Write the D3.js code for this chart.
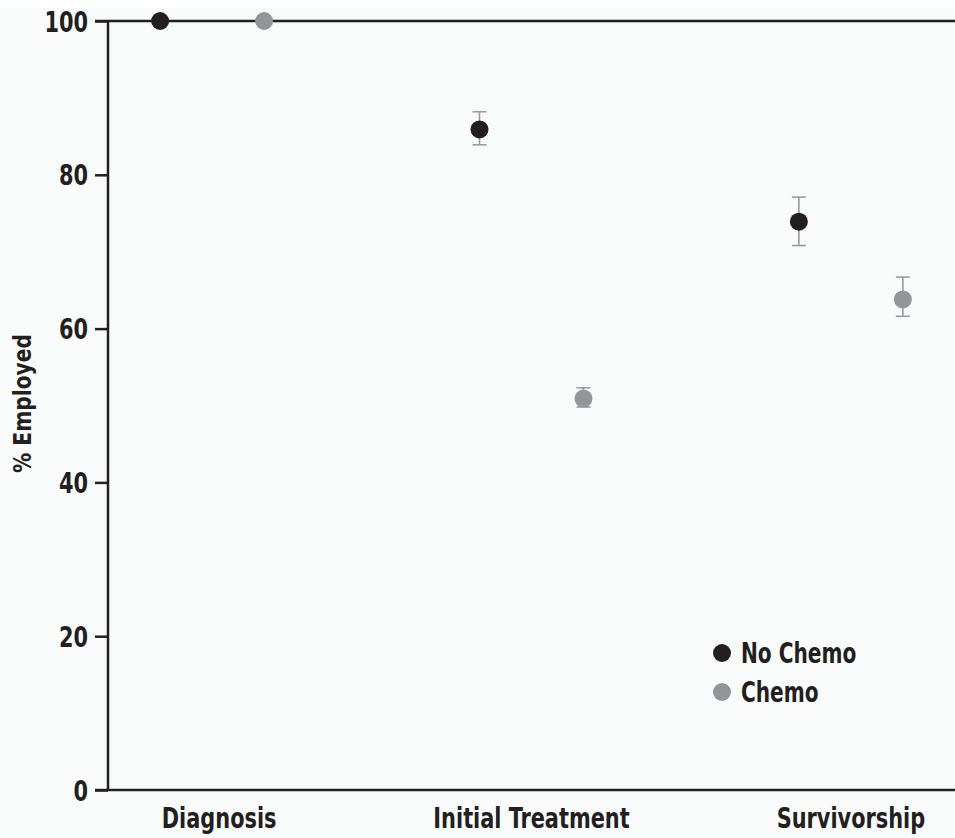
<!DOCTYPE html>
<html>
<head>
<meta charset="utf-8">
<script src="https://cdnjs.cloudflare.com/ajax/libs/d3/7.8.5/d3.min.js"></script>
<style>
    body { margin: 0; background: #fff; }
    svg { display: block; }
    .lbl { font-family: "Liberation Sans Narrow", "DejaVu Sans Condensed", sans-serif; font-weight: bold; fill: #231f20; }
</style>
</head>
<body>
<svg id="chart"></svg>
<script>
// data
var stages = ["Diagnosis", "Initial Treatment", "Survivorship"];
var groups = ["No Chemo", "Chemo"];
var noChemo = [100, 85.9, 73.9];
var noChemoLo = [100, 83.9, 70.8];
var noChemoHi = [100, 88.2, 77.1];
var chemo = [100, 50.9, 63.8];
var chemoLo = [100, 49.8, 61.6];
var chemoHi = [100, 52.3, 66.7];
var yTicks = [0, 20, 40, 60, 80, 100];

var width = 955,
    height = 838,
    margin = {top: 21, bottom: 48, left: 108, right: 0},
    squeeze = 0.8;

var colors = {"No Chemo": "#231f20", "Chemo": "#939598"};

var svg = d3.select("#chart")
    .attr("width", width)
    .attr("height", height);

svg.append("rect")
    .attr("x", 0).attr("y", 8)
    .attr("width", width).attr("height", height - 8)
    .attr("fill", "#f9fbfb");

var xScale = d3.scalePoint()
    .domain(stages)
    .range([margin.left, width - margin.right])
    .padding(0.326);

var offset = d3.scalePoint()
    .domain(groups)
    .range([-52, 52]);

var yScale = d3.scaleLinear()
    .domain([0, 100])
    .range([height - margin.bottom, margin.top]);

// condensed text placed at (x, y)
function label(parent, x, y, txt, size, anchor) {
    return parent.append("text")
        .attr("class", "lbl")
        .attr("transform", "translate(" + x + "," + y + ") scale(" + squeeze + ",1)")
        .attr("text-anchor", anchor)
        .style("font-size", size + "px")
        .text(txt);
}

// y axis
var yAxis = d3.axisLeft(yScale)
    .tickValues(yTicks)
    .tickSize(13)
    .tickFormat("");

var yAxisG = svg.append("g")
    .attr("transform", "translate(" + margin.left + ",0)")
    .call(yAxis);
yAxisG.select(".domain").remove();
yAxisG.selectAll("line").attr("stroke", "#231f20").attr("stroke-width", 2.5);
yTicks.forEach(function (t) {
    label(svg, margin.left - 20, yScale(t) + 10.5, t, 29, "end");
});

svg.append("line")
    .attr("x1", margin.left).attr("x2", margin.left)
    .attr("y1", yScale(100)).attr("y2", yScale(0))
    .attr("stroke", "#231f20").attr("stroke-width", 2.5);

// top and bottom rules
[0, 100].forEach(function (v) {
    svg.append("line")
        .attr("x1", margin.left - 13).attr("x2", width)
        .attr("y1", yScale(v)).attr("y2", yScale(v))
        .attr("stroke", "#231f20").attr("stroke-width", 2.5);
});

// x labels
stages.forEach(function (s, i) {
    label(svg, xScale(s) + (i === 0 ? 7 : 0), 828, s, 29, "middle");
});

// y title
svg.append("text")
    .attr("class", "lbl")
    .attr("transform", "translate(31," + (yScale(50) - 2) + ") rotate(-90) scale(0.9,1)")
    .attr("text-anchor", "middle")
    .style("font-size", "25px")
    .text("% Employed");

var points = [];
stages.forEach(function (s, i) {
    points.push({stage: s, group: "No Chemo", v: noChemo[i], lo: noChemoLo[i], hi: noChemoHi[i]});
    points.push({stage: s, group: "Chemo", v: chemo[i], lo: chemoLo[i], hi: chemoHi[i]});
});

function px(d) { return xScale(d.stage) + offset(d.group); }

var errs = svg.selectAll(".err")
    .data(points.filter(function (d) { return d.hi > d.lo; }))
    .enter().append("g")
    .attr("stroke", "#999b9e")
    .attr("stroke-width", 1.6);
errs.append("line")
    .attr("x1", px).attr("x2", px)
    .attr("y1", function (d) { return yScale(d.hi); })
    .attr("y2", function (d) { return yScale(d.lo); });
errs.append("line")
    .attr("x1", function (d) { return px(d) - 7; })
    .attr("x2", function (d) { return px(d) + 7; })
    .attr("y1", function (d) { return yScale(d.hi); })
    .attr("y2", function (d) { return yScale(d.hi); });
errs.append("line")
    .attr("x1", function (d) { return px(d) - 7; })
    .attr("x2", function (d) { return px(d) + 7; })
    .attr("y1", function (d) { return yScale(d.lo); })
    .attr("y2", function (d) { return yScale(d.lo); });

svg.selectAll(".pt")
    .data(points)
    .enter().append("circle")
    .attr("cx", px)
    .attr("cy", function (d) { return yScale(d.v); })
    .attr("r", 9)
    .attr("fill", function (d) { return colors[d.group]; });

// legend
groups.forEach(function (g, i) {
    var y = 653 + i * 39;
    svg.append("circle")
        .attr("cx", 722).attr("cy", y)
        .attr("r", 9)
        .attr("fill", colors[g]);
    label(svg, 741, y + 10, g, 28, "start");
});
</script>
</body>
</html>
